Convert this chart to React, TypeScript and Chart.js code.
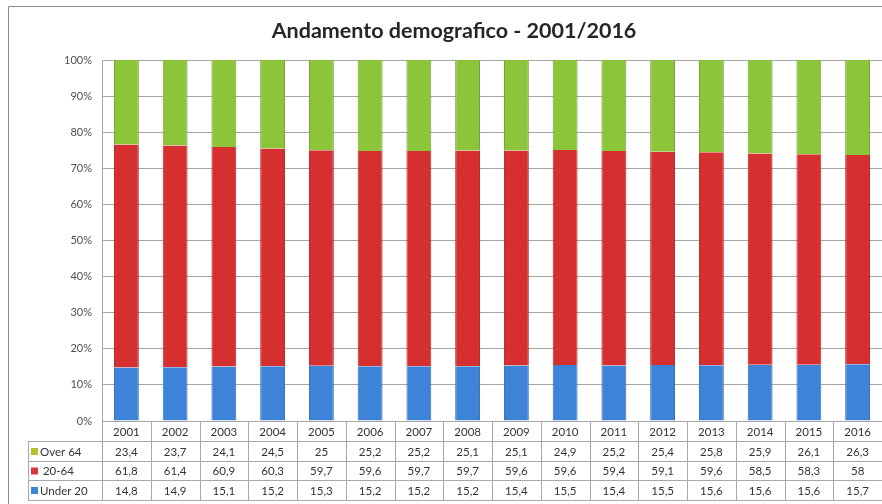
import React, { useEffect, useRef } from "react";
import { Chart, registerables } from "chart.js";

Chart.register(...registerables);

const TITLE = "Andamento demografico - 2001/2016";
const YEARS = ["2001","2002","2003","2004","2005","2006","2007","2008","2009","2010","2011","2012","2013","2014","2015","2016"];
const OVER_64 = [23.4,23.7,24.1,24.5,25,25.2,25.2,25.1,25.1,24.9,25.2,25.4,25.8,25.9,26.1,26.3];
const AGE_20_64 = [61.8,61.4,60.9,60.3,59.7,59.6,59.7,59.7,59.6,59.6,59.4,59.1,59.6,58.5,58.3,58];
const UNDER_20 = [14.8,14.9,15.1,15.2,15.3,15.2,15.2,15.2,15.4,15.5,15.4,15.5,15.6,15.6,15.6,15.7];
const Y_TICKS = [0,10,20,30,40,50,60,70,80,90,100];

const FONT = "Lato, 'Open Sans', sans-serif";

const totals = YEARS.map((_, i) => OVER_64[i] + AGE_20_64[i] + UNDER_20[i]);
const pct = (arr: number[]) => arr.map((v, i) => (v / totals[i]) * 100);
const fmt = (v: number) => String(v).replace(".", ",");

const tableRows = [
  { label: "Over 64", key: "#b9bf2e", values: OVER_64 },
  { label: " 20-64", key: "#d23a3a", values: AGE_20_64 },
  { label: "Under 20", key: "#3a86cf", values: UNDER_20 },
];

const decorPlugin = {
  id: "decor",
  beforeDraw(chart: any) {
    const { ctx, width, height } = chart;
    ctx.save();
    ctx.fillStyle = "#ffffff";
    ctx.fillRect(0, 0, width, height);
    ctx.restore();
  },
  afterDraw(chart: any) {
    const { ctx, chartArea } = chart;
    const x = chart.scales.x;
    ctx.save();
    // outer frame
    ctx.strokeStyle = "#8c8c8c";
    ctx.lineWidth = 1;
    ctx.beginPath();
    ctx.moveTo(8.5, 520);
    ctx.lineTo(8.5, 6.5);
    ctx.lineTo(900, 6.5);
    ctx.stroke();
    // title
    ctx.fillStyle = "#262626";
    ctx.font = "bold 21.5px " + FONT;
    ctx.textAlign = "center";
    ctx.textBaseline = "middle";
    ctx.fillText(TITLE, 454, 31);

    // data table
    const top = chartArea.bottom;
    const rowsY = [top, 441, 461, 480, 500];
    const left = chartArea.left;
    const legendLeft = 28;
    const right = chartArea.right;
    const step = YEARS.length > 1 ? x.getPixelForValue(1) - x.getPixelForValue(0) : chartArea.width;
    ctx.strokeStyle = "#a8a8a8";
    ctx.lineWidth = 1;
    ctx.beginPath();
    ctx.moveTo(left, Math.round(top) + 0.5);
    ctx.lineTo(right, Math.round(top) + 0.5);
    for (let r = 1; r < rowsY.length; r++) {
      ctx.moveTo(legendLeft, rowsY[r] + 0.5);
      ctx.lineTo(right, rowsY[r] + 0.5);
    }
    ctx.moveTo(legendLeft + 0.5, rowsY[1]);
    ctx.lineTo(legendLeft + 0.5, rowsY[4]);
    ctx.moveTo(Math.round(left) + 0.5, top);
    ctx.lineTo(Math.round(left) + 0.5, rowsY[4]);
    for (let i = 0; i < YEARS.length; i++) {
      const bx = Math.round(x.getPixelForValue(i) + step / 2) + 0.5;
      ctx.moveTo(bx, top);
      ctx.lineTo(bx, rowsY[4]);
    }
    ctx.stroke();

    ctx.font = "11.5px " + FONT;
    ctx.fillStyle = "#333333";
    ctx.textAlign = "center";
    ctx.textBaseline = "middle";
    YEARS.forEach((yr, i) => {
      const cx = x.getPixelForValue(i);
      ctx.fillText(yr, cx, (rowsY[0] + rowsY[1]) / 2 + 1);
      tableRows.forEach((row, r) => {
        ctx.fillText(fmt(row.values[i]), cx, (rowsY[r + 1] + rowsY[r + 2]) / 2 + 1);
      });
    });
    ctx.textAlign = "left";
    ctx.font = "11.5px " + FONT;
    tableRows.forEach((row, r) => {
      const cy = (rowsY[r + 1] + rowsY[r + 2]) / 2;
      ctx.fillStyle = row.key;
      ctx.fillRect(31, cy - 3, 7, 7);
      ctx.fillStyle = "#333333";
      ctx.fillText(row.label, 40, cy + 1);
    });
    ctx.restore();
  },
};

export default function App() {
  const ref = useRef<HTMLCanvasElement>(null);
  useEffect(() => {
    const chart = new Chart(ref.current!, {
      type: "bar",
      data: {
        labels: YEARS,
        datasets: [
          { label: "Under 20", data: pct(UNDER_20), backgroundColor: "#3d83d8", borderColor: "#2f6cb8", borderWidth: { left: 1, right: 1 } as any },
          { label: "20-64", data: pct(AGE_20_64), backgroundColor: "#d62f2f", borderColor: "#b52222", borderWidth: { left: 1, right: 1 } as any },
          { label: "Over 64", data: pct(OVER_64), backgroundColor: "#8cc43a", borderColor: "#6f9f2a", borderWidth: { left: 1, right: 1 } as any },
        ],
      },
      options: {
        animation: false,
        responsive: false,
        maintainAspectRatio: false,
        layout: { padding: { top: 60, bottom: 83, left: 0, right: 0 } },
        datasets: { bar: { categoryPercentage: 1, barPercentage: 0.51 } },
        plugins: { legend: { display: false }, tooltip: { enabled: false }, title: { display: false } },
        scales: {
          x: {
            stacked: true,
            ticks: { display: false },
            grid: { display: false, drawTicks: false },
            border: { display: false },
            afterFit: (s: any) => { s.height = 0; },
          },
          y: {
            stacked: true,
            min: 0,
            max: 100,
            afterBuildTicks: (s: any) => { s.ticks = Y_TICKS.map((v) => ({ value: v })); },
            ticks: { callback: (v: any) => v + "%", color: "#505050", font: { family: FONT, size: 11 }, padding: 10 },
            grid: { color: "#a6a6a6", drawTicks: false },
            border: { display: true, color: "#a6a6a6" },
            afterFit: (s: any) => { s.width = 102; },
          },
        },
      },
      plugins: [decorPlugin],
    });
    return () => chart.destroy();
  }, []);
  return (
    <div style={{ position: "absolute", left: 0, top: 0, width: 882, height: 504 }}>
      <canvas ref={ref} width={882} height={504} style={{ display: "block" }} />
    </div>
  );
}
